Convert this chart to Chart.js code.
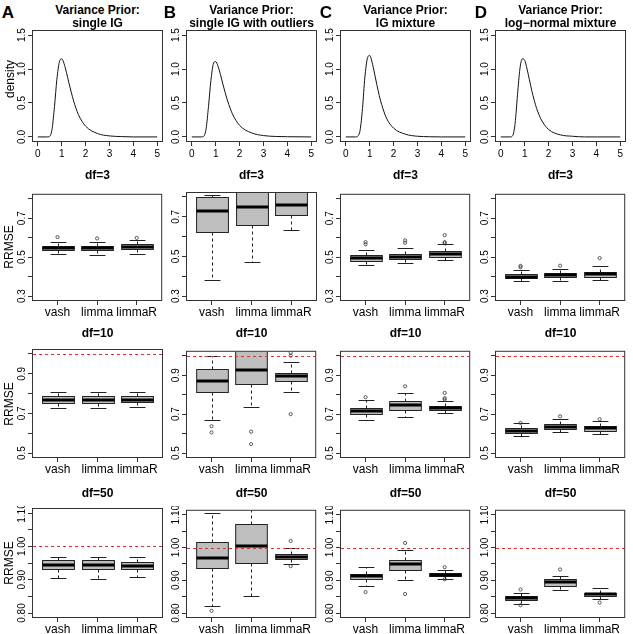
<!DOCTYPE html>
<html lang="en">
<head>
<meta charset="UTF-8">
<title>Variance prior RRMSE</title>
<style>
  body { margin: 0; background: #fff; }
  #fig { position: relative; width: 633px; height: 634px; overflow: hidden; font-family: "Liberation Sans", Arial, sans-serif; color: #000; }
  #fig canvas { position: absolute; }
  .txt { position: absolute; white-space: nowrap; transform: translate(-50%, -50%); line-height: 1; }
  .b { font-weight: bold; }
  .rot { transform: translate(-50%, -50%) rotate(-90deg); }
</style>
</head>
<body>
<div id="fig"></div>
<script src="https://cdn.jsdelivr.net/npm/chart.js"></script>
<script>
// ---- data ----
const methods = ['vash', 'limma', 'limmaR'];
const letters = ['A', 'B', 'C', 'D'];
const priorNames = ['single IG', 'single IG with outliers', 'IG mixture', 'log\u2212normal mixture'];
const dfNames = ['df=3', 'df=10', 'df=50'];

// density curves (top row)
const densX = [0, 0.4, 0.5, 0.6, 0.7, 0.8, 0.9, 1.0, 1.1, 1.2, 1.3, 1.4, 1.5, 1.7, 2.0, 2.5, 3.0, 3.5, 4.0, 5.0];
const densA = [0, 0, 0.01, 0.12, 0.45, 0.85, 1.10, 1.15, 1.08, 0.95, 0.80, 0.66, 0.53, 0.33, 0.16, 0.05, 0.015, 0.005, 0, 0];
const densB = [0, 0, 0.01, 0.12, 0.45, 0.83, 1.07, 1.11, 1.04, 0.92, 0.78, 0.65, 0.53, 0.34, 0.17, 0.06, 0.02, 0.007, 0.003, 0];
const densC = [0, 0, 0.01, 0.10, 0.42, 0.88, 1.15, 1.20, 1.10, 0.94, 0.77, 0.61, 0.48, 0.28, 0.13, 0.04, 0.01, 0.003, 0, 0];
const densD = [0, 0, 0.02, 0.20, 0.62, 1.00, 1.15, 1.13, 1.00, 0.84, 0.68, 0.54, 0.42, 0.25, 0.11, 0.03, 0.01, 0, 0, 0];
const densTicksX = [0, 1, 2, 3, 4, 5];
const densTicksY = [0, 0.5, 1.0, 1.5];

// boxplot stats per panel: [lower whisker, q1, median, q3, upper whisker]
const df3Stats = [
  [[0.515, 0.535, 0.545, 0.559, 0.576], [0.512, 0.535, 0.545, 0.557, 0.576], [0.515, 0.540, 0.552, 0.566, 0.586]],
  [[0.381, 0.624, 0.730, 0.800, 0.810], [0.473, 0.656, 0.747, 0.860, 0.950], [0.631, 0.708, 0.759, 0.830, 0.900]],
  [[0.460, 0.482, 0.495, 0.510, 0.535], [0.471, 0.488, 0.502, 0.515, 0.545], [0.483, 0.503, 0.517, 0.532, 0.566]],
  [[0.377, 0.392, 0.400, 0.411, 0.434], [0.379, 0.396, 0.406, 0.418, 0.441], [0.381, 0.399, 0.413, 0.426, 0.453]]
];
const df10Stats = [
  [[0.728, 0.753, 0.770, 0.787, 0.809], [0.728, 0.753, 0.770, 0.787, 0.809], [0.733, 0.756, 0.770, 0.787, 0.809]],
  [[0.672, 0.816, 0.871, 0.930, 1.000], [0.736, 0.854, 0.925, 1.040, 1.100], [0.816, 0.868, 0.895, 0.913, 0.967]],
  [[0.672, 0.700, 0.716, 0.731, 0.773], [0.684, 0.723, 0.748, 0.765, 0.809], [0.704, 0.719, 0.731, 0.741, 0.765]],
  [[0.588, 0.601, 0.615, 0.627, 0.652], [0.606, 0.622, 0.633, 0.647, 0.674], [0.600, 0.616, 0.628, 0.638, 0.667]]
];
const df50Stats = [
  [[0.905, 0.932, 0.943, 0.958, 0.968], [0.903, 0.932, 0.943, 0.958, 0.968], [0.908, 0.933, 0.942, 0.954, 0.968]],
  [[0.822, 0.938, 0.968, 1.018, 1.105], [0.852, 0.953, 1.005, 1.073, 1.150], [0.950, 0.964, 0.972, 0.979, 1.000]],
  [[0.884, 0.903, 0.913, 0.918, 0.940], [0.900, 0.932, 0.950, 0.962, 0.992], [0.905, 0.912, 0.917, 0.921, 0.932]],
  [[0.827, 0.840, 0.846, 0.852, 0.862], [0.870, 0.884, 0.894, 0.904, 0.914], [0.842, 0.852, 0.857, 0.862, 0.875]]
];
// outliers per panel: [method number, value]
const df3Out = [
  [[1, 0.603], [2, 0.596], [3, 0.599]],
  [],
  [[1, 0.577], [1, 0.566], [2, 0.586], [2, 0.574], [3, 0.613], [3, 0.577], [3, 0.572]],
  [[1, 0.455], [1, 0.448], [2, 0.456], [3, 0.495]]
];
const df10Out = [
  [],
  [[1, 0.638], [1, 0.606], [2, 0.610], [2, 0.546], [3, 1.015], [3, 1.000], [3, 0.700]],
  [[1, 0.787], [2, 0.843], [3, 0.809], [3, 0.782], [3, 0.775]],
  [[1, 0.655], [2, 0.689], [3, 0.674]]
];
const df50Out = [
  [],
  [[1, 0.807], [3, 1.020], [3, 0.943]],
  [[1, 0.864], [2, 1.014], [2, 0.858], [3, 0.940], [3, 0.903]],
  [[1, 0.872], [1, 0.824], [2, 0.933], [3, 0.832]]
];
const df3Ticks = [0.3, 0.4, 0.5, 0.6, 0.7, 0.8];
const df3Labels = ['0.3', '', '0.5', '', '0.7', ''];
const df10Ticks = [0.5, 0.6, 0.7, 0.8, 0.9, 1.0];
const df10Labels = ['0.5', '', '0.7', '', '0.9', ''];
const df50Ticks = [0.80, 0.85, 0.90, 0.95, 1.00, 1.05, 1.10];
const df50Labels = ['0.80', '', '0.90', '', '1.00', '', '1.10'];

// ---- layout (pixels) ----
const colLeft = [33, 187, 341, 496];
const plotW = 129;
const rowTop = [31, 193, 350, 509];
const rowH = [110, 107, 107, 108];
const letterX = [8, 170, 326, 481];
const fig = document.getElementById('fig');

function addText(str, x, y, size, cls) {
  const d = document.createElement('div');
  d.className = 'txt ' + (cls || '');
  d.style.left = x + 'px';
  d.style.top = y + 'px';
  d.style.fontSize = size + 'px';
  d.textContent = str;
  fig.appendChild(d);
}

// R-like boxplot drawing, using the chart scales
const rbox = {
  id: 'rbox',
  beforeDatasetsDraw(chart, args, opts) {
    if (!opts.stats) return;
    const {ctx, chartArea: a} = chart;
    const x = chart.scales.x, y = chart.scales.y;
    ctx.save();
    ctx.beginPath();
    ctx.rect(a.left, a.top, a.right - a.left, a.bottom - a.top);
    ctx.clip();
    opts.stats.forEach(function (s, i) {
      const c = Math.round(x.getPixelForValue(i + 1)) + 0.5;
      const hw = x.getPixelForValue(i + 1.4) - x.getPixelForValue(i + 1);
      const cw = hw / 2;
      const p = s.map(v => Math.round(y.getPixelForValue(v)) + 0.5);
      ctx.strokeStyle = '#222';
      ctx.lineWidth = 1;
      ctx.setLineDash([3, 3]);
      ctx.beginPath();
      ctx.moveTo(c, p[3]); ctx.lineTo(c, p[4]);
      ctx.moveTo(c, p[1]); ctx.lineTo(c, p[0]);
      ctx.stroke();
      ctx.setLineDash([]);
      ctx.beginPath();
      ctx.moveTo(c - cw, p[4]); ctx.lineTo(c + cw, p[4]);
      ctx.moveTo(c - cw, p[0]); ctx.lineTo(c + cw, p[0]);
      ctx.stroke();
      ctx.fillStyle = '#bebebe';
      ctx.fillRect(c - hw, p[3], 2 * hw, p[1] - p[3]);
      ctx.strokeRect(c - hw, p[3], 2 * hw, p[1] - p[3]);
      ctx.lineWidth = 3;
      ctx.strokeStyle = '#000';
      ctx.beginPath();
      ctx.moveTo(c - hw, p[2] - 0.5); ctx.lineTo(c + hw, p[2] - 0.5);
      ctx.stroke();
    });
    ctx.restore();
  },
  afterDatasetsDraw(chart, args, opts) {
    const {ctx, chartArea: a} = chart;
    if (opts.ref != null) {
      const yy = Math.round(chart.scales.y.getPixelForValue(opts.ref)) + 0.5;
      ctx.save();
      ctx.strokeStyle = '#e03030';
      ctx.lineWidth = 1;
      ctx.setLineDash([3, 3]);
      ctx.beginPath();
      ctx.moveTo(a.left, yy); ctx.lineTo(a.right, yy);
      ctx.stroke();
      ctx.restore();
    }
  },
  afterDraw(chart) {
    const {ctx, chartArea: a} = chart;
    ctx.save();
    ctx.strokeStyle = '#333';
    ctx.lineWidth = 1;
    ctx.strokeRect(a.left - 0.5, a.top - 0.5, a.right - a.left + 1, a.bottom - a.top + 1);
    ctx.restore();
  }
};

function fixAxis(size, isY) {
  return function (scale) {
    if (isY) scale.width = size; else scale.height = size;
    scale.paddingLeft = 0; scale.paddingRight = 0;
    scale.paddingTop = 0; scale.paddingBottom = 0;
  };
}

function makeCanvas(row, col) {
  const cv = document.createElement('canvas');
  const w = 34 + plotW + 4, h = 3 + rowH[row] + 26;
  cv.width = w; cv.height = h;
  cv.style.width = w + 'px'; cv.style.height = h + 'px';
  cv.style.left = (colLeft[col] - 34) + 'px';
  cv.style.top = (rowTop[row] - 3) + 'px';
  fig.appendChild(cv);
  return cv;
}

function axes(xMin, xMax, xTicks, xLabels, xFont, xPad, yMin, yMax, yTicks, yLabels, yPad) {
  const grid = {display: true, drawOnChartArea: false, drawTicks: true, tickLength: 5, color: '#333', lineWidth: 1};
  return {
    x: {
      type: 'linear', min: xMin, max: xMax,
      border: {display: false}, grid: grid,
      afterBuildTicks: s => { s.ticks = xTicks.map(v => ({value: v})); },
      afterFit: fixAxis(26, false),
      ticks: {
        autoSkip: false, maxRotation: 0, padding: xPad, color: '#000',
        font: {family: 'Liberation Sans', size: xFont},
        callback: (v, i) => xLabels[i]
      }
    },
    y: {
      type: 'linear', min: yMin, max: yMax,
      border: {display: false}, grid: grid,
      afterBuildTicks: s => { s.ticks = yTicks.map(v => ({value: v})); },
      afterFit: fixAxis(34, true),
      ticks: {
        autoSkip: false, minRotation: 90, maxRotation: 90, crossAlign: 'center', padding: yPad, color: '#000',
        font: {family: 'Liberation Sans', size: 10},
        callback: (v, i) => yLabels[i]
      }
    }
  };
}

// top row: density of the variance prior
const dens = [densA, densB, densC, densD];
dens.forEach(function (dy, col) {
  new Chart(makeCanvas(0, col), {
    type: 'line',
    data: {
      datasets: [{
        data: densX.map((v, i) => ({x: v, y: dy[i]})),
        borderColor: '#111', borderWidth: 1, pointRadius: 0,
        cubicInterpolationMode: 'monotone', fill: false
      }]
    },
    options: {
      responsive: false, animation: false, events: [],
      layout: {padding: {left: 0, top: 3, right: 4, bottom: 0}},
      plugins: {legend: {display: false}, tooltip: {enabled: false}, rbox: {}},
      scales: axes(-0.2, 5.2, densTicksX, densTicksX.map(String), 10, 2,
                   -0.06, 1.56, densTicksY, densTicksY.map(v => v.toFixed(1)), -1)
    },
    plugins: [rbox]
  });
});

// boxplot rows
const rows = [
  {stats: df3Stats, out: df3Out, ticks: df3Ticks, labels: df3Labels, min: 0.28, max: 0.82, ref: null, pad: -1},
  {stats: df10Stats, out: df10Out, ticks: df10Ticks, labels: df10Labels, min: 0.48, max: 1.02, ref: 1, pad: -1},
  {stats: df50Stats, out: df50Out, ticks: df50Ticks, labels: df50Labels, min: 0.788, max: 1.112, ref: 1, pad: -4}
];
rows.forEach(function (r, ri) {
  for (let col = 0; col < 4; col++) {
    new Chart(makeCanvas(ri + 1, col), {
      type: 'scatter',
      data: {
        datasets: [{
          data: r.out[col].map(o => ({x: o[0], y: o[1]})),
          pointStyle: 'circle', pointRadius: 1.6, borderWidth: 0.8,
          borderColor: '#333', backgroundColor: 'rgba(0,0,0,0)'
        }]
      },
      options: {
        responsive: false, animation: false, events: [],
        layout: {padding: {left: 0, top: 3, right: 4, bottom: 0}},
        plugins: {legend: {display: false}, tooltip: {enabled: false}, rbox: {stats: r.stats[col], ref: r.ref}},
        scales: axes(0.38, 3.62, [1, 2, 3], methods, 12, 0,
                     r.min, r.max, r.ticks, r.labels, r.pad)
      },
      plugins: [rbox]
    });
  }
});

// text
for (let col = 0; col < 4; col++) {
  const cx = colLeft[col] + plotW / 2;
  addText(letters[col], letterX[col], 12, 17, 'b');
  addText('Variance Prior:', cx, 10, 12, 'b');
  addText(priorNames[col], cx, 23, 12, 'b');
  addText(dfNames[0], cx, 175, 12, 'b');
  addText(dfNames[1], cx, 333, 12, 'b');
  addText(dfNames[2], cx, 493, 12, 'b');
}
addText('density', 10, 79, 12, 'rot');
for (let r = 1; r < 4; r++) {
  addText('RRMSE', 9, rowTop[r] + rowH[r] / 2, 12, 'rot');
}
</script>
</body>
</html>
